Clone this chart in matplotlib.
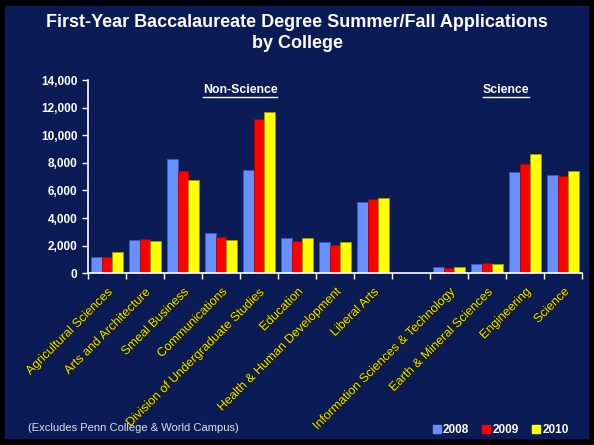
import matplotlib.pyplot as plt
import matplotlib.patheffects as pe
from matplotlib.patches import Rectangle
from matplotlib.ticker import FuncFormatter
from matplotlib.lines import Line2D
import numpy as np

plt.rcParams['font.family'] = ['Liberation Sans', 'DejaVu Sans']

# dados
colleges = ['Agricultural Sciences', 'Arts and Architecture', 'Smeal Business',
            'Communications', 'Division of Undergraduate Studies', 'Education',
            'Health & Human Development', 'Liberal Arts',
            'Information Sciences & Technology', 'Earth & Mineral Sciences',
            'Engineering', 'Science']
slots = [0, 1, 2, 3, 4, 5, 6, 7, 9, 10, 11, 12]   # slot 8 fica vazio
apps_2008 = [1200, 2400, 8300, 2900, 7500, 2550, 2270, 5150, 480, 680, 7350, 7150]
apps_2009 = [1150, 2480, 7400, 2630, 11150, 2330, 2040, 5350, 380, 720, 7950, 7030]
apps_2010 = [1540, 2330, 6750, 2400, 11700, 2560, 2240, 5480, 420, 700, 8650, 7400]
anos = ['2008', '2009', '2010']

navy = '#0b1b55'
cores = ['#6690ff', '#ff0000', '#ffff00']
bordas = ['#3a5cc0', '#b00000', '#9a9a00']
label_cor = '#e8e800'

fig = plt.figure(figsize=(5.94, 4.45), dpi=100, facecolor=navy)
ax = fig.add_axes([0.148, 0.386, 0.832, 0.434])
ax.set_facecolor(navy)

x = np.array(slots)
w = 0.28
for i, vals in enumerate([apps_2008, apps_2009, apps_2010]):
    ax.bar(x + (i - 1) * w, vals, w, color=cores[i], edgecolor=bordas[i],
           linewidth=0.6, label=anos[i], zorder=2)

ax.set_xlim(-0.5, 12.5)
ax.set_ylim(0, 14000)
ax.set_yticks(np.arange(0, 14001, 2000))
ax.yaxis.set_major_formatter(FuncFormatter(lambda v, p: f'{int(v):,}'))

for s in ['top', 'right']:
    ax.spines[s].set_visible(False)
ax.spines['left'].set_color('white')
ax.spines['bottom'].set_color('white')
ax.spines['left'].set_linewidth(1.2)
ax.spines['bottom'].set_linewidth(1.2)

ax.tick_params(axis='y', colors='white', length=4, width=1, labelsize=8.5)
for t in ax.get_yticklabels():
    t.set_fontweight('bold')

# ticks nas fronteiras, rotulos no centro
ax.set_xticks(np.arange(-0.5, 13, 1), minor=True)
ax.set_xticks(x)
ax.tick_params(axis='x', which='minor', colors='white', length=4, width=1, direction='out')
ax.tick_params(axis='x', which='major', length=0, pad=9)
ax.set_xticklabels(colleges, rotation=45, ha='right', rotation_mode='anchor',
                   fontsize=9, color=label_cor)
for t in ax.get_xticklabels():
    t.set_path_effects([pe.withStroke(linewidth=1.2, foreground='#1a1a00')])

# titulo
fig.text(0.5, 0.926, 'First-Year Baccalaureate Degree Summer/Fall Applications\nby College',
         ha='center', va='center', color='white', fontsize=13, fontweight='bold',
         linespacing=1.3)

# subtitulos sublinhados
grupos = [('Non-Science', 3.5), ('Science', 10.5)]
txts = []
for nome, xpos in grupos:
    txts.append(ax.text(xpos, 13300, nome, ha='center', va='center', color='white',
                        fontsize=8.8, fontweight='bold'))
fig.canvas.draw()
r = fig.canvas.get_renderer()
for t in txts:
    bb = t.get_window_extent(r).transformed(fig.transFigure.inverted())
    fig.add_artist(Line2D([bb.x0, bb.x1], [bb.y0 - 0.002, bb.y0 - 0.002],
                          color='white', lw=1, transform=fig.transFigure))

# nota de rodape
fig.text(0.047, 0.038, '(Excludes Penn College & World Campus)', color='#e0e0f0',
         fontsize=8, va='center')

# legenda
handles = [Line2D([], [], marker='s', ls='none', color=c, markersize=6) for c in cores]
leg = fig.legend(handles, anos, loc='center right', bbox_to_anchor=(0.975, 0.034),
                 ncol=3, frameon=False, handlelength=0.6, handletextpad=0.2,
                 columnspacing=1.2, prop={'weight': 'bold', 'size': 8.5})
for t in leg.get_texts():
    t.set_color('white')

# moldura preta
fig.add_artist(Rectangle((0.003, 0.006), 0.994, 0.988, transform=fig.transFigure,
                         fill=False, edgecolor='black', linewidth=4))

fig.savefig('out.png', dpi=100, facecolor=navy)
